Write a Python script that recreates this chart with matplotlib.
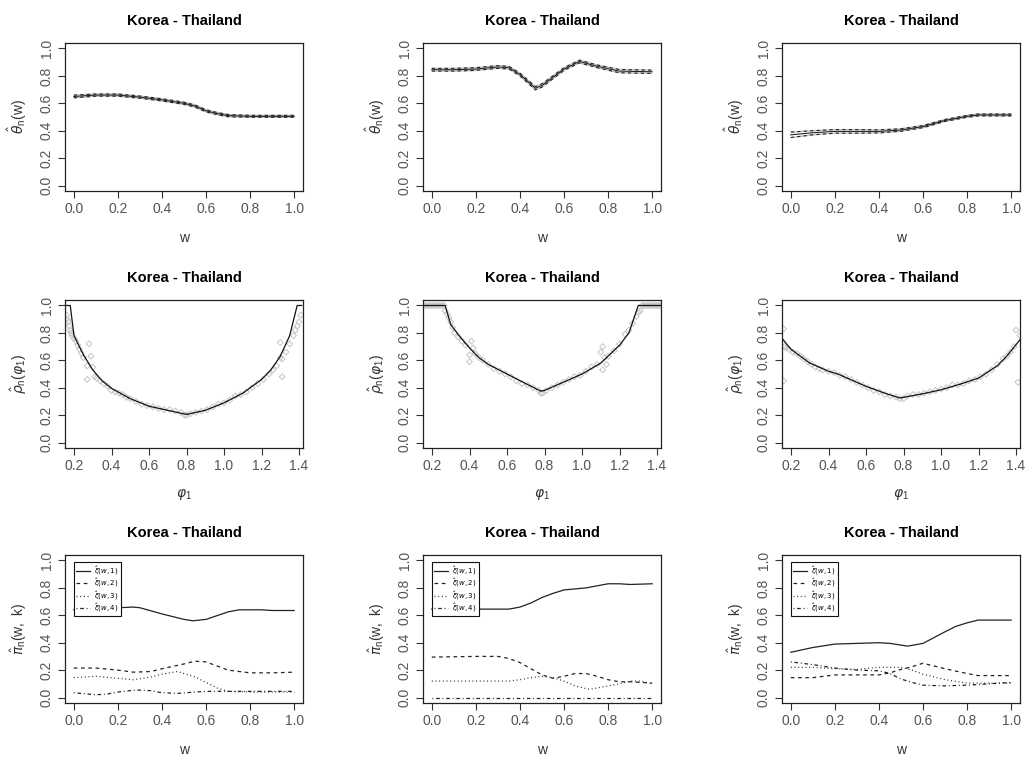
import matplotlib
matplotlib.use("Agg")
import matplotlib.pyplot as plt

plt.rcParams["font.family"] = ["Liberation Sans", "DejaVu Sans"]
plt.rcParams["mathtext.fontset"] = "dejavusans"

TITLE = "Korea - Thailand"

# ---- top row: theta_n(w) with pointwise bands ----
w_a = [0.0, 0.1, 0.2, 0.3, 0.4, 0.5, 0.55, 0.6, 0.65, 0.7, 0.8, 0.9, 1.0]
theta_a = [0.650, 0.660, 0.660, 0.645, 0.625, 0.600, 0.580, 0.545, 0.525, 0.510, 0.505, 0.505, 0.505]
theta_a_lo = [0.640, 0.652, 0.652, 0.637, 0.617, 0.592, 0.572, 0.537, 0.517, 0.502, 0.498, 0.498, 0.498]
theta_a_hi = [0.660, 0.668, 0.668, 0.653, 0.633, 0.608, 0.588, 0.553, 0.533, 0.518, 0.512, 0.512, 0.512]

w_b = [0.0, 0.1, 0.2, 0.3, 0.35, 0.4, 0.47, 0.5, 0.6, 0.67, 0.75, 0.85, 1.0]
theta_b = [0.845, 0.845, 0.850, 0.865, 0.860, 0.810, 0.710, 0.730, 0.850, 0.905, 0.870, 0.835, 0.830]
theta_b_lo = [0.835, 0.835, 0.840, 0.855, 0.850, 0.800, 0.698, 0.718, 0.840, 0.895, 0.860, 0.823, 0.818]
theta_b_hi = [0.855, 0.855, 0.860, 0.875, 0.870, 0.820, 0.722, 0.742, 0.860, 0.915, 0.880, 0.847, 0.842]

w_c = [0.0, 0.1, 0.2, 0.3, 0.4, 0.5, 0.6, 0.7, 0.8, 0.85, 0.9, 1.0]
theta_c = [0.370, 0.385, 0.395, 0.395, 0.395, 0.405, 0.430, 0.475, 0.505, 0.515, 0.515, 0.515]
theta_c_lo = [0.350, 0.370, 0.382, 0.382, 0.384, 0.396, 0.422, 0.468, 0.498, 0.508, 0.508, 0.508]
theta_c_hi = [0.390, 0.400, 0.408, 0.408, 0.406, 0.414, 0.438, 0.482, 0.512, 0.522, 0.522, 0.522]

# ---- middle row: rho_n(phi_1), fitted curve and raw estimates ----
phi_a = [0.157, 0.18, 0.2, 0.25, 0.3, 0.35, 0.4, 0.5, 0.6, 0.7, 0.8, 0.9, 1.0, 1.1, 1.2, 1.25, 1.3, 1.35, 1.39, 1.414]
rho_a = [1.0, 1.0, 0.78, 0.64, 0.53, 0.45, 0.395, 0.32, 0.265, 0.235, 0.205, 0.235, 0.29, 0.36, 0.46, 0.53, 0.63, 0.78, 1.0, 1.0]
rho_a_pts = [
    (0.16, 0.93), (0.165, 0.90), (0.17, 0.88), (0.175, 0.85), (0.18, 0.82), (0.185, 0.80),
    (0.19, 0.78), (0.20, 0.76), (0.21, 0.74), (0.22, 0.71), (0.23, 0.68), (0.24, 0.65),
    (0.25, 0.62), (0.27, 0.56), (0.27, 0.46), (0.28, 0.72), (0.29, 0.63), (0.30, 0.55),
    (0.31, 0.48), (0.32, 0.47), (0.34, 0.45), (0.36, 0.43), (0.38, 0.41), (0.40, 0.38),
    (0.42, 0.37), (0.44, 0.36), (0.46, 0.35), (0.48, 0.33), (0.50, 0.32), (0.53, 0.30),
    (0.56, 0.28), (0.59, 0.27), (0.62, 0.26), (0.65, 0.25), (0.68, 0.24), (0.71, 0.24),
    (0.74, 0.23), (0.77, 0.22), (0.79, 0.20), (0.80, 0.20), (0.82, 0.21), (0.85, 0.22),
    (0.88, 0.23), (0.91, 0.24), (0.94, 0.26), (0.97, 0.28), (1.00, 0.29), (1.03, 0.31),
    (1.06, 0.34), (1.09, 0.35), (1.12, 0.37), (1.15, 0.40), (1.18, 0.43), (1.21, 0.46),
    (1.24, 0.50), (1.26, 0.53), (1.28, 0.56), (1.30, 0.62), (1.30, 0.73), (1.31, 0.61),
    (1.31, 0.48), (1.33, 0.66), (1.35, 0.72), (1.37, 0.78), (1.38, 0.82), (1.39, 0.85),
    (1.40, 0.88), (1.41, 0.93),
]

phi_b = [0.152, 0.27, 0.3, 0.35, 0.4, 0.45, 0.5, 0.6, 0.7, 0.78, 0.8, 0.9, 1.0, 1.1, 1.2, 1.25, 1.28, 1.3, 1.421]
rho_b = [1.0, 1.0, 0.86, 0.77, 0.69, 0.62, 0.57, 0.50, 0.43, 0.375, 0.38, 0.44, 0.50, 0.58, 0.71, 0.80, 0.92, 1.0, 1.0]
rho_b_pts = [
    (0.155, 1.0), (0.165, 1.0), (0.175, 1.0), (0.185, 1.0), (0.195, 1.0), (0.205, 1.0),
    (0.215, 1.0), (0.225, 1.0), (0.235, 1.0), (0.245, 1.0), (0.255, 1.0), (0.265, 1.0),
    (0.27, 0.96), (0.28, 0.94), (0.29, 0.91), (0.30, 0.88), (0.31, 0.84), (0.32, 0.80),
    (0.34, 0.77), (0.36, 0.74), (0.38, 0.71), (0.40, 0.64), (0.40, 0.59), (0.41, 0.74),
    (0.42, 0.69), (0.43, 0.65), (0.45, 0.62), (0.47, 0.60), (0.50, 0.57), (0.53, 0.54),
    (0.56, 0.52), (0.59, 0.50), (0.62, 0.48), (0.65, 0.45), (0.68, 0.43), (0.71, 0.42),
    (0.74, 0.40), (0.77, 0.38), (0.78, 0.36), (0.79, 0.36), (0.81, 0.38), (0.84, 0.40),
    (0.87, 0.42), (0.90, 0.44), (0.93, 0.46), (0.96, 0.48), (0.99, 0.49), (1.02, 0.52),
    (1.05, 0.55), (1.08, 0.57), (1.10, 0.66), (1.11, 0.70), (1.11, 0.53), (1.12, 0.62),
    (1.13, 0.57), (1.14, 0.63), (1.17, 0.67), (1.20, 0.72), (1.23, 0.79), (1.25, 0.82),
    (1.27, 0.87), (1.29, 0.92), (1.30, 0.95), (1.31, 0.96), (1.32, 1.0), (1.33, 1.0),
    (1.34, 1.0), (1.35, 1.0), (1.36, 1.0), (1.37, 1.0), (1.38, 1.0), (1.39, 1.0),
    (1.40, 1.0), (1.41, 1.0), (1.42, 1.0),
]

phi_c = [0.152, 0.2, 0.3, 0.4, 0.45, 0.5, 0.6, 0.7, 0.78, 0.8, 0.9, 1.0, 1.1, 1.2, 1.3, 1.35, 1.421]
rho_c = [0.76, 0.68, 0.58, 0.52, 0.50, 0.47, 0.41, 0.36, 0.325, 0.33, 0.355, 0.385, 0.425, 0.47, 0.56, 0.63, 0.75]
rho_c_pts = [
    (0.16, 0.83), (0.16, 0.45), (0.165, 0.70), (0.175, 0.69), (0.19, 0.68), (0.21, 0.66),
    (0.23, 0.65), (0.25, 0.63), (0.27, 0.61), (0.29, 0.59), (0.31, 0.57), (0.33, 0.55),
    (0.35, 0.54), (0.37, 0.53), (0.40, 0.52), (0.43, 0.51), (0.46, 0.49), (0.49, 0.48),
    (0.52, 0.46), (0.55, 0.44), (0.58, 0.42), (0.61, 0.40), (0.64, 0.38), (0.67, 0.37),
    (0.70, 0.35), (0.73, 0.34), (0.76, 0.33), (0.78, 0.32), (0.80, 0.32), (0.82, 0.34),
    (0.85, 0.35), (0.88, 0.35), (0.91, 0.36), (0.94, 0.37), (0.97, 0.38), (1.00, 0.39),
    (1.03, 0.40), (1.06, 0.42), (1.09, 0.42), (1.12, 0.43), (1.15, 0.45), (1.18, 0.46),
    (1.21, 0.48), (1.24, 0.50), (1.27, 0.53), (1.30, 0.57), (1.33, 0.61), (1.35, 0.63),
    (1.37, 0.66), (1.39, 0.70), (1.40, 0.82), (1.41, 0.44), (1.42, 0.78),
]

# ---- bottom row: pi_n(w, k), k = 1..4 ----
pi_a_w = {
    1: [0.0, 0.1, 0.2, 0.27, 0.3, 0.4, 0.5, 0.54, 0.6, 0.7, 0.75, 0.85, 0.9, 1.0],
    2: [0.0, 0.1, 0.2, 0.27, 0.35, 0.4, 0.5, 0.55, 0.6, 0.7, 0.8, 0.9, 1.0],
    3: [0.0, 0.1, 0.2, 0.27, 0.35, 0.4, 0.47, 0.55, 0.6, 0.65, 0.7, 0.8, 1.0],
    4: [0.0, 0.1, 0.15, 0.2, 0.28, 0.35, 0.4, 0.47, 0.55, 0.6, 0.7, 0.8, 1.0],
}
pi_a_k1 = [0.64, 0.65, 0.655, 0.66, 0.655, 0.61, 0.57, 0.56, 0.57, 0.625, 0.64, 0.64, 0.635, 0.635]
pi_a_k2 = [0.215, 0.215, 0.20, 0.185, 0.19, 0.21, 0.245, 0.265, 0.26, 0.20, 0.18, 0.18, 0.185]
pi_a_k3 = [0.145, 0.155, 0.14, 0.13, 0.15, 0.17, 0.19, 0.15, 0.11, 0.07, 0.045, 0.04, 0.04]
pi_a_k4 = [0.035, 0.02, 0.025, 0.04, 0.055, 0.05, 0.035, 0.03, 0.04, 0.045, 0.045, 0.045, 0.045]

pi_b_w = {
    1: [0.0, 0.35, 0.4, 0.45, 0.5, 0.55, 0.6, 0.7, 0.8, 0.85, 0.9, 1.0],
    2: [0.0, 0.2, 0.3, 0.35, 0.4, 0.45, 0.5, 0.55, 0.6, 0.65, 0.7, 0.75, 0.8, 0.85, 0.9, 1.0],
    3: [0.0, 0.35, 0.4, 0.45, 0.5, 0.55, 0.6, 0.65, 0.7, 0.72, 0.8, 0.85, 0.9, 0.95, 1.0],
    4: [0.0, 1.0],
}
pi_b_k1 = [0.645, 0.645, 0.66, 0.69, 0.73, 0.76, 0.785, 0.80, 0.83, 0.83, 0.825, 0.83]
pi_b_k2 = [0.295, 0.30, 0.30, 0.285, 0.255, 0.21, 0.165, 0.14, 0.155, 0.175, 0.175, 0.155, 0.13, 0.115, 0.115, 0.105]
pi_b_k3 = [0.12, 0.12, 0.13, 0.145, 0.155, 0.145, 0.12, 0.085, 0.065, 0.06, 0.085, 0.10, 0.12, 0.12, 0.10]
pi_b_k4 = [0.0, 0.0]

pi_c_w = {
    1: [0.0, 0.1, 0.2, 0.3, 0.4, 0.45, 0.53, 0.6, 0.7, 0.75, 0.8, 0.85, 0.9, 1.0],
    2: [0.0, 0.1, 0.2, 0.3, 0.4, 0.45, 0.5, 0.55, 0.6, 0.7, 0.8, 0.85, 1.0],
    3: [0.0, 0.1, 0.2, 0.3, 0.4, 0.5, 0.55, 0.6, 0.7, 0.8, 0.9, 1.0],
    4: [0.0, 0.1, 0.2, 0.3, 0.4, 0.45, 0.5, 0.55, 0.6, 0.7, 0.8, 0.9, 1.0],
}
pi_c_k1 = [0.33, 0.365, 0.39, 0.395, 0.40, 0.395, 0.375, 0.395, 0.48, 0.52, 0.545, 0.565, 0.565, 0.565]
pi_c_k2 = [0.145, 0.145, 0.165, 0.165, 0.165, 0.18, 0.205, 0.225, 0.25, 0.21, 0.175, 0.16, 0.16]
pi_c_k3 = [0.22, 0.22, 0.21, 0.205, 0.22, 0.22, 0.20, 0.17, 0.13, 0.105, 0.105, 0.105]
pi_c_k4 = [0.26, 0.24, 0.215, 0.20, 0.195, 0.175, 0.135, 0.11, 0.09, 0.085, 0.09, 0.10, 0.11]

unit_ticks = [0.0, 0.2, 0.4, 0.6, 0.8, 1.0]
unit_labels = ["0.0", "0.2", "0.4", "0.6", "0.8", "1.0"]
phi_ticks = [0.2, 0.4, 0.6, 0.8, 1.0, 1.2, 1.4]
phi_labels = ["0.2", "0.4", "0.6", "0.8", "1.0", "1.2", "1.4"]
legend_labels = [r"$\hat{\xi}(w,1)$", r"$\hat{\xi}(w,2)$", r"$\hat{\xi}(w,3)$", r"$\hat{\xi}(w,4)$"]

# ---- layout (pixel geometry of a 1025 x 760 canvas) ----
W, H = 1025, 760
fig = plt.figure(figsize=(W / 100, H / 100), dpi=100)
fig.patch.set_facecolor("white")

col_left = [65, 423, 782]
row_top = [43, 300, 555]
box_w, box_h = 238, 148

TICK_COLOR = "#555555"
LABEL_COLOR = "#333333"
DASH = (0, (2.9, 2.9))
DOT = (0, (0.75, 2.2))
DASHDOT = (0, (0.75, 2.2, 2.9, 2.2))


def make_axes(r, c):
    l = col_left[c] / W
    b = 1 - (row_top[r] + box_h) / H
    ax = fig.add_axes([l, b, box_w / W, box_h / H])
    for s in ax.spines.values():
        s.set_linewidth(0.9)
        s.set_color("#222222")
    ax.tick_params(direction="out", length=5, width=0.8, color="#333333",
                   labelsize=10, labelcolor=TICK_COLOR, pad=3)
    ax.set_ylim(-0.04, 1.04)
    ax.set_yticks(unit_ticks)
    ax.set_yticklabels(unit_labels, rotation=90, va="center")
    ax.set_title(TITLE, fontsize=10.5, fontweight="bold", pad=13)
    return ax


def unit_xaxis(ax):
    ax.set_xlim(-0.04, 1.04)
    ax.set_xticks(unit_ticks)
    ax.set_xticklabels(unit_labels)


# top row
for c, (w, th, lo, hi) in enumerate([
    (w_a, theta_a, theta_a_lo, theta_a_hi),
    (w_b, theta_b, theta_b_lo, theta_b_hi),
    (w_c, theta_c, theta_c_lo, theta_c_hi),
]):
    ax = make_axes(0, c)
    unit_xaxis(ax)
    ax.plot(w, lo, color="#c0c0c0", lw=1.0, solid_capstyle="butt")
    ax.plot(w, hi, color="#c0c0c0", lw=1.0, solid_capstyle="butt")
    ax.plot(w, lo, color="#222222", lw=0.8, linestyle=DASH)
    ax.plot(w, hi, color="#222222", lw=0.8, linestyle=DASH)
    ax.plot(w, th, color="#222222", lw=0.8)
    ax.set_xlabel("w", fontsize=10, color=LABEL_COLOR, labelpad=11)
    ax.set_ylabel(r"$\hat{\theta}_{\mathregular{n}}\mathregular{(w)}$", fontsize=10,
                  color=LABEL_COLOR, labelpad=8)

# middle row
for c, (phi, rho, pts) in enumerate([
    (phi_a, rho_a, rho_a_pts),
    (phi_b, rho_b, rho_b_pts),
    (phi_c, rho_c, rho_c_pts),
]):
    ax = make_axes(1, c)
    ax.set_xlim(0.152, 1.421)
    ax.set_xticks(phi_ticks)
    ax.set_xticklabels(phi_labels)
    px = [p[0] for p in pts]
    py = [p[1] for p in pts]
    ax.scatter(px, py, marker="D", s=9, facecolors="none",
               edgecolors="#c4c4c4", linewidths=0.7, zorder=2)
    ax.plot(phi, rho, color="#111111", lw=0.9, zorder=3)
    ax.set_xlabel(r"$\varphi_{\mathregular{1}}$", fontsize=10, color=LABEL_COLOR, labelpad=10)
    ax.set_ylabel(r"$\hat{\rho}_{\mathregular{n}}\mathregular{(}\varphi_{\mathregular{1}}\mathregular{)}$",
                  fontsize=10, color=LABEL_COLOR, labelpad=8)

# bottom row
for c, (ws, k1, k2, k3, k4) in enumerate([
    (pi_a_w, pi_a_k1, pi_a_k2, pi_a_k3, pi_a_k4),
    (pi_b_w, pi_b_k1, pi_b_k2, pi_b_k3, pi_b_k4),
    (pi_c_w, pi_c_k1, pi_c_k2, pi_c_k3, pi_c_k4),
]):
    ax = make_axes(2, c)
    unit_xaxis(ax)
    col = "#222222"
    h1, = ax.plot(ws[1], k1, color=col, lw=0.9, linestyle="-")
    h2, = ax.plot(ws[2], k2, color=col, lw=0.9, linestyle=DASH)
    h3, = ax.plot(ws[3], k3, color=col, lw=0.9, linestyle=DOT)
    h4, = ax.plot(ws[4], k4, color=col, lw=0.9, linestyle=DASHDOT)
    leg = ax.legend([h1, h2, h3, h4], legend_labels, loc="upper left",
                    bbox_to_anchor=(9 / box_w, 1 - 7 / box_h), borderaxespad=0,
                    fontsize=5.0, handlelength=2.0, handletextpad=0.5,
                    labelspacing=0.0, borderpad=0.35, fancybox=False,
                    framealpha=1)
    leg.get_frame().set_edgecolor("#111111")
    leg.get_frame().set_linewidth(0.8)
    ax.set_xlabel("w", fontsize=10, color=LABEL_COLOR, labelpad=11)
    ax.set_ylabel(r"$\hat{\pi}_{\mathregular{n}}\mathregular{(w,\ k)}$", fontsize=10,
                  color=LABEL_COLOR, labelpad=8)

fig.savefig("out.png", dpi=100)
